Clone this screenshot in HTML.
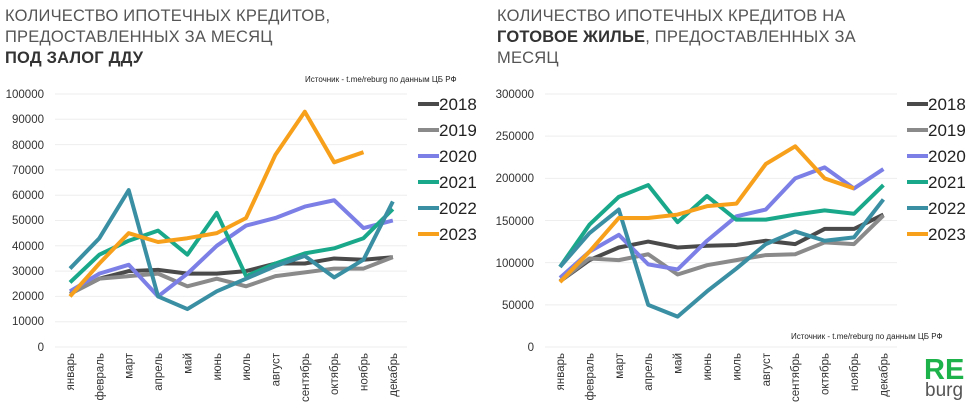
<!DOCTYPE html>
<html><head><meta charset="utf-8"><style>
body{margin:0;background:#fff;width:974px;height:412px;overflow:hidden;font-family:"Liberation Sans",sans-serif}
.t{position:absolute;font-size:16.5px;color:#555;line-height:21px;letter-spacing:0.2px}
.t b{color:#333}
svg{position:absolute;left:0;top:0}
</style></head><body>
<div class="t" style="left:5px;top:6px">КОЛИЧЕСТВО ИПОТЕЧНЫХ КРЕДИТОВ,<br>ПРЕДОСТАВЛЕННЫХ ЗА МЕСЯЦ<br><b>ПОД ЗАЛОГ ДДУ</b></div>
<div class="t" style="left:497px;top:6px">КОЛИЧЕСТВО ИПОТЕЧНЫХ КРЕДИТОВ НА<br><b>ГОТОВОЕ ЖИЛЬЕ</b>, ПРЕДОСТАВЛЕННЫХ ЗА<br>МЕСЯЦ</div>
<svg width="974" height="412" id="s" font-family="Liberation Sans, sans-serif">
<g fill="#333" font-size="11.5" text-anchor="end">
<text x="44" y="98">100000</text><text x="44" y="123">90000</text><text x="44" y="149">80000</text><text x="44" y="174">70000</text><text x="44" y="199">60000</text><text x="44" y="224">50000</text><text x="44" y="250">40000</text><text x="44" y="275">30000</text><text x="44" y="300">20000</text><text x="44" y="325">10000</text><text x="44" y="351">0</text>
<text x="534" y="98">300000</text><text x="534" y="140">250000</text><text x="534" y="182">200000</text><text x="534" y="225">150000</text><text x="534" y="267">100000</text><text x="534" y="309">50000</text><text x="534" y="351">0</text>
</g>
<g font-size="8" fill="#222"><text x="305" y="82">Источник  - t.me/reburg по данным  ЦБ РФ</text><text x="791" y="339">Источник  - t.me/reburg по данным  ЦБ РФ</text></g>
<g id="grid" stroke="#eee" stroke-width="1"></g>
<g id="lab" font-size="11.5" fill="#333" text-anchor="end"></g>
<g id="lines" fill="none" stroke-width="4" stroke-linejoin="round"></g>
<g font-size="17" fill="#222" id="leg"></g>
<text x="924" y="379" font-size="29" font-weight="bold" fill="#1db34a">RE</text>
<text x="925" y="396" font-size="19" fill="#555">burg</text>
</svg>
<script>
var ns="http://www.w3.org/2000/svg";
function el(p,t,a){var e=document.createElementNS(ns,t);for(var k in a)e.setAttribute(k,a[k]);document.getElementById(p).appendChild(e);return e}
var C=["#4a4a4a","#8a8a8a","#7b7fe6","#1aa88a","#3a8fa3","#f7a01c"];
var M=["январь","февраль","март","апрель","май","июнь","июль","август","сентябрь","октябрь","ноябрь","декабрь"];
var L=[[21,27,30,30.5,29,29,30,33,33,35,34.5,35.5],[21,27,28,29,24,27,24,28,29.5,31,31,35.5],[22,29,32.5,20,29,40,48,51,55.5,58,47,50],[25.5,36.5,42,46,36.5,53,28,33,37,39,43,54.5],[31,43,62,20,15,22,27,32,36,27.5,34.5,57.5],[20,33,45,41.5,43,45,51,76,93,73,77]];
var R=[[78,103,118,125,118,120,121,126,122,140,140,157],[78,105,103,110,86,97,103,109,110,124,122,156],[82,113,133,98,92,126,155,163,200,213,188,211],[95,145,178,192,148,179,151,151,157,162,158,192],[95,135,163,50,36,66,93,122,137,126,130,175],[77,113,153,153,157,167,170,217,238,200,188]];
function chart(x0,xs,gx1,gx2,max,D,lx){
 var n=max==100?10:6;for(var i=0;i<=n;i++){var y=347-253*i/n;el("grid","line",{x1:gx1,x2:gx2,y1:y,y2:y});}
 M.forEach(function(m,i){var x=x0+i*xs;var t=el("lab","text",{transform:"translate("+(x+4)+",353) rotate(-90)"});t.textContent=m;});
 D.forEach(function(d,j){el("lines","polyline",{stroke:C[j],points:d.map(function(v,i){return (x0+i*xs)+","+(347-253*v/max)}).join(" ")});
  var y=104+j*26;el("lines","line",{x1:lx,x2:lx+21,y1:y,y2:y,stroke:C[j]});var t=el("leg","text",{x:lx+21,y:y+6});t.textContent=2018+j;});
}
chart(70,29.35,55,407,100,L,418);
chart(560,29.4,545,897,300,R,907);
</script>
</body></html>
